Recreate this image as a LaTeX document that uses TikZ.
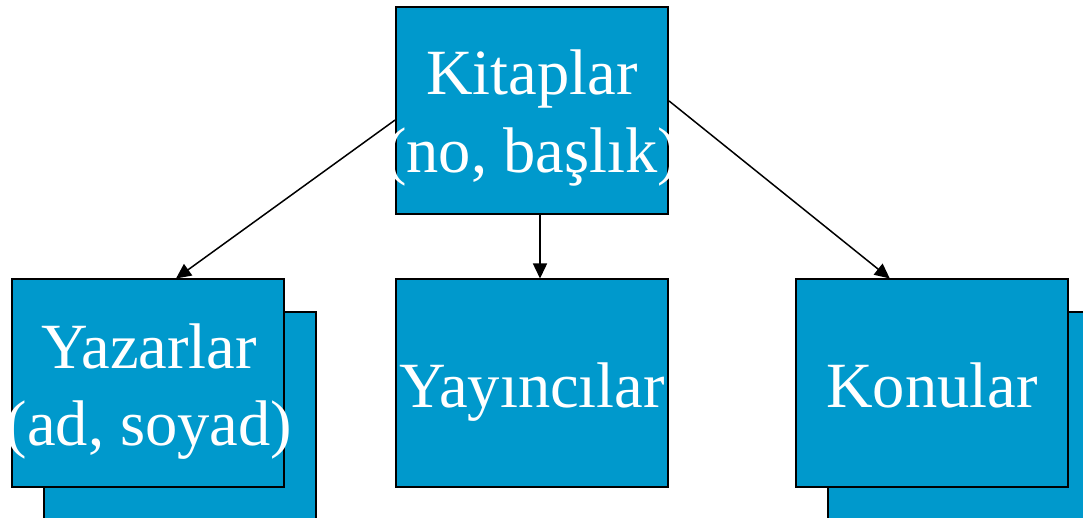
\documentclass[tikz,border=0pt]{standalone}
\usepackage{fontspec}
\setmainfont{Liberation Serif}
\usetikzlibrary{arrows.meta}
\definecolor{boxblue}{RGB}{0,153,204}
\begin{document}
\begin{tikzpicture}[x=1pt,y=-1pt,
  ebox/.style={draw=black,line width=2pt,fill=boxblue,minimum width=272pt,minimum height=207pt,inner sep=0pt},
  etext/.style={text=white,font=\fontsize{64.5}{77}\selectfont,anchor=base,inner sep=0pt},
  conn/.style={line width=1.5pt,-{Triangle[length=15pt,width=14pt]}}]
\useasboundingbox (0,0) rectangle (1083,518);
\clip (0,0) rectangle (1083,518);
\fill[white] (0,0) rectangle (1083,518);
% shadows
\node[ebox] (yazs) at (180,415) {};
\node[ebox] (kons) at (964,415) {};
% main boxes
\node[ebox] (kit) at (532,110.5) {};
\node[ebox] (yaz) at (148,383) {};
\node[ebox] (yay) at (532,383) {};
\node[ebox] (kon) at (932,383) {};
% texts
\node[etext] (t1) at (532,95) {Kitaplar};
\node[etext] (t2) at (532,173) {(no, başlık)};
\node[etext] (t3) at (149,368) {Yazarlar};
\node[etext] (t4) at (149,445) {(ad, soyad)};
\node[etext] (t5) at (532,407) {Yayıncılar};
\node[etext] (t6) at (932,407) {Konular};
% connectors
\draw[conn] (kit.184) -- (yaz.75);
\draw[conn] ([xshift=8pt]kit.south) -- ([xshift=8pt]yay.north);
\draw[conn] (kit.4) -- (kon.112);
\end{tikzpicture}
\end{document}
